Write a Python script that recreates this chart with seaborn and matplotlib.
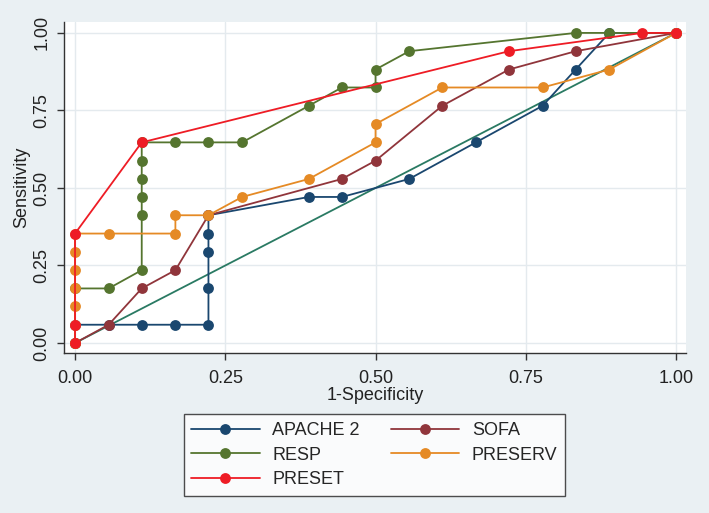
import pandas as pd
import matplotlib.pyplot as plt
import seaborn as sns


# ROC points (1-specificity on x, sensitivity on y)
APACHE_X = [0, 0, 0.056, 0.111, 0.167, 0.222, 0.222, 0.222, 0.222, 0.222,
            0.389, 0.444, 0.556, 0.667, 0.778, 0.833, 0.889, 1]
APACHE_Y = [0, 0.059, 0.059, 0.059, 0.059, 0.059, 0.176, 0.294, 0.353, 0.412,
            0.471, 0.471, 0.529, 0.647, 0.765, 0.882, 1, 1]

SOFA_X = [0, 0.056, 0.111, 0.167, 0.222, 0.444, 0.5, 0.611, 0.722, 0.833, 1]
SOFA_Y = [0, 0.059, 0.176, 0.235, 0.412, 0.529, 0.588, 0.765, 0.882, 0.941, 1]

RESP_X = [0, 0, 0.056, 0.111, 0.111, 0.111, 0.111, 0.111, 0.111, 0.167,
          0.222, 0.278, 0.389, 0.444, 0.5, 0.5, 0.556, 0.833, 0.889, 1]
RESP_Y = [0, 0.176, 0.176, 0.235, 0.412, 0.471, 0.529, 0.588, 0.647, 0.647,
          0.647, 0.647, 0.765, 0.824, 0.824, 0.882, 0.941, 1, 1, 1]

PRESERV_X = [0, 0, 0, 0, 0, 0, 0, 0.056, 0.167, 0.167, 0.222, 0.278,
             0.389, 0.5, 0.5, 0.611, 0.778, 0.889, 1]
PRESERV_Y = [0, 0.059, 0.118, 0.176, 0.235, 0.294, 0.353, 0.353, 0.353, 0.412,
             0.412, 0.471, 0.529, 0.647, 0.706, 0.824, 0.824, 0.882, 1]

PRESET_X = [0, 0, 0, 0.111, 0.722, 0.944, 1]
PRESET_Y = [0, 0.059, 0.353, 0.647, 0.941, 1, 1]

# chance diagonal
REF_X = [0, 1]
REF_Y = [0, 1]

SERIES = ["APACHE 2", "SOFA", "RESP", "PRESERV", "PRESET"]
TICKS = [0, 0.25, 0.5, 0.75, 1.0]
TICK_LABELS = ["0.00", "0.25", "0.50", "0.75", "1.00"]

COLORS = {
    "APACHE 2": "#1a476f",
    "SOFA": "#90353b",
    "RESP": "#55752f",
    "PRESERV": "#e58a25",
    "PRESET": "#ee1c25",
}
BG = "#eaf0f3"
FS = 13

# long format table so seaborn can do the hue split
frames = []
for name, xs, ys in zip(SERIES,
                        [APACHE_X, SOFA_X, RESP_X, PRESERV_X, PRESET_X],
                        [APACHE_Y, SOFA_Y, RESP_Y, PRESERV_Y, PRESET_Y]):
    frames.append(pd.DataFrame({"spec": xs, "sens": ys, "model": name}))
df = pd.concat(frames, ignore_index=True)

sns.set_theme(style="white")
plt.rcParams["font.family"] = ["Liberation Sans", "DejaVu Sans"]

fig = plt.figure(figsize=(7.09, 5.13), dpi=100, facecolor=BG)
ax = fig.add_axes([0.0903, 0.312, 0.8773, 0.645])
ax.set_facecolor("white")

ax.plot(REF_X, REF_Y, color="#2a7a63", linewidth=1.3, zorder=1)

sns.lineplot(data=df, x="spec", y="sens", hue="model", hue_order=SERIES,
             palette=COLORS, sort=False, estimator=None, units="model",
             marker="o", markersize=7.8, markeredgewidth=0, linewidth=1.3,
             ax=ax, legend=False, zorder=2)

ax.set_xlim(-0.0183, 1.0166)
ax.set_ylim(-0.032, 1.035)
ax.set_xticks(TICKS)
ax.set_xticklabels(TICK_LABELS)
ax.set_yticks(TICKS)
ax.set_yticklabels(TICK_LABELS, rotation=90, va="center")
ax.grid(True, color="#e4eaee", linewidth=1)
ax.set_axisbelow(True)

for side in ["top", "right"]:
    ax.spines[side].set_visible(False)
for side in ["left", "bottom"]:
    ax.spines[side].set_color("#333333")
    ax.spines[side].set_linewidth(1)
ax.tick_params(axis="both", length=5, width=1, color="#333333",
               labelsize=FS, labelcolor="#222222", direction="out",
               bottom=True, left=True)
ax.tick_params(axis="x", pad=7)
ax.tick_params(axis="y", pad=5)

ax.set_xlabel("1-Specificity", fontsize=FS, color="#222222", labelpad=0)
ax.set_ylabel("Sensitivity", fontsize=FS, color="#222222", labelpad=2)

# legend: two columns, APACHE/RESP/PRESET on the left, SOFA/PRESERV on the right
handles = []
for name in ["APACHE 2", "RESP", "PRESET", "SOFA", "PRESERV"]:
    h, = ax.plot([], [], color=COLORS[name], marker="o", markersize=7.8,
                 markeredgewidth=0, linewidth=1.3, label=name)
    handles.append(h)
leg = fig.legend(handles=handles, ncol=2, loc="center",
                 bbox_to_anchor=(0.528, 0.113), fontsize=FS,
                 frameon=True, fancybox=False, edgecolor="#222222",
                 handlelength=3.8, columnspacing=1.7, labelspacing=0.42,
                 borderpad=0.42, handletextpad=0.7)
leg.get_frame().set_linewidth(1)
leg.get_frame().set_facecolor("white")

fig.savefig("out.png", dpi=100, facecolor=BG)
